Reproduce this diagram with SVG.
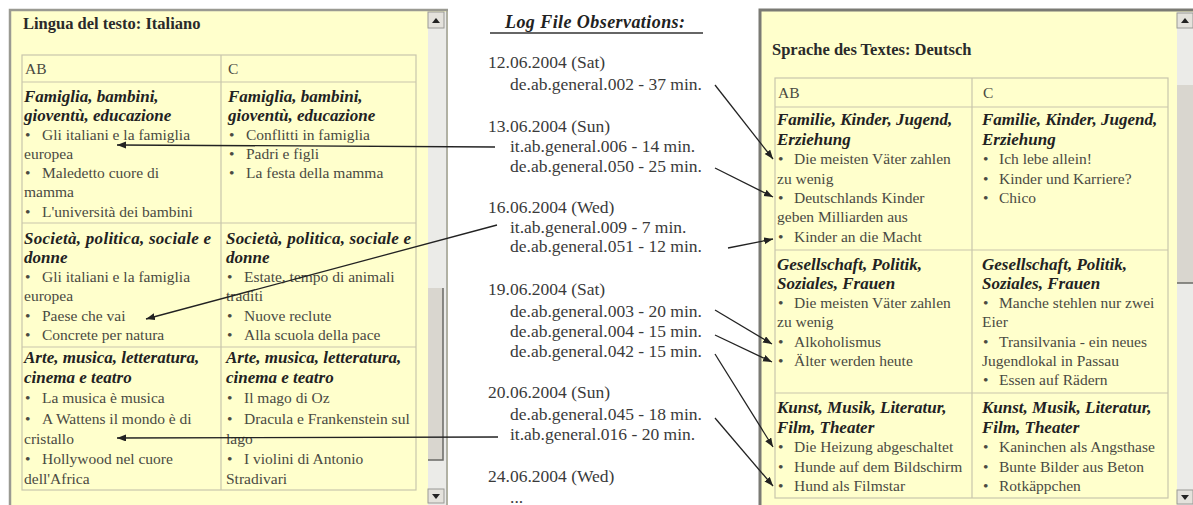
<svg xmlns="http://www.w3.org/2000/svg" width="1193" height="505" viewBox="0 0 1193 505">
<style>
.t{font-family:"Liberation Serif","Times New Roman",serif;font-size:15.5px;fill:#4a4a42}
.h{font-family:"Liberation Serif","Times New Roman",serif;font-size:17px;font-weight:bold;font-style:italic;fill:#222}
.ttl{font-family:"Liberation Serif","Times New Roman",serif;font-size:16.5px;font-weight:bold;fill:#2a2a2a}
.m{font-family:"Liberation Serif","Times New Roman",serif;font-size:17.5px;fill:#3a3a3a}
.mt{font-family:"Liberation Serif","Times New Roman",serif;font-size:18px;font-weight:bold;font-style:italic;fill:#222}
.panel{fill:#FFFFCC}
.grid{stroke:#c9c6ac;stroke-width:1.2;fill:none}
.track{fill:#ebebe8}
.btn{fill:#e4e2dc;stroke:#9a9a96;stroke-width:1}
.thumb{fill:#d9d6cf}
.edge{stroke:#6a6a66;stroke-width:1.5;fill:none}
.conn line{stroke:#222;stroke-width:1.3;marker-end:url(#arr)}
</style>
<defs>
<marker id="arr" markerUnits="userSpaceOnUse" markerWidth="10" markerHeight="8" refX="9" refY="3.5" orient="auto">
<path d="M0,0 L9,3.5 L0,7 z" fill="#222"/>
</marker>
</defs>
<rect width="1193" height="505" fill="#ffffff"/>

<g id="panel-it">
<rect x="10" y="10" width="438" height="500" class="panel"/>
<path d="M10,505 V10 H448" stroke="#9a9a92" stroke-width="2.5" fill="none"/>
<rect x="428" y="12" width="19" height="493" class="track"/>
<rect x="428" y="12" width="16" height="16" class="btn"/>
<path d="M432,23 L436,18 L440,23 z" fill="#222"/>
<rect x="428" y="288" width="15" height="172" class="thumb"/>
<path class="edge" d="M428,460 H443 V288"/>
<rect x="428" y="489" width="16" height="14" class="btn"/>
<path d="M432,494 L436,499 L440,494 z" fill="#222"/>
<line x1="447" y1="10" x2="447" y2="505" stroke="#9a9a92" stroke-width="1.5"/>
<text x="23" y="29" class="ttl">Lingua del testo: Italiano</text>
<rect x="22" y="55" width="394" height="435" class="grid"/>
<path class="grid" d="M22,82 H416 M22,223 H416 M22,347 H416 M221,55 V490"/>
<text x="25" y="74" class="t">AB</text>
<text x="228" y="74" class="t">C</text>
<text x="24" y="102" class="h">Famiglia, bambini,</text>
<text x="24" y="121" class="h">gioventù, educazione</text>
<text class="t" y="140"><tspan x="25">•</tspan><tspan x="42">Gli italiani e la famiglia</tspan></text>
<text x="24" y="159" class="t">europea</text>
<text class="t" y="178"><tspan x="25">•</tspan><tspan x="42">Maledetto cuore di</tspan></text>
<text x="24" y="197" class="t">mamma</text>
<text class="t" y="217"><tspan x="25">•</tspan><tspan x="42">L'università dei bambini</tspan></text>
<text x="228" y="102" class="h">Famiglia, bambini,</text>
<text x="228" y="121" class="h">gioventù, educazione</text>
<text class="t" y="140"><tspan x="229">•</tspan><tspan x="246">Conflitti in famiglia</tspan></text>
<text class="t" y="159"><tspan x="229">•</tspan><tspan x="246">Padri e figli</tspan></text>
<text class="t" y="178"><tspan x="229">•</tspan><tspan x="246">La festa della mamma</tspan></text>
<text x="24" y="244" class="h" textLength="187">Società, politica, sociale e</text>
<text x="24" y="263" class="h">donne</text>
<text class="t" y="282"><tspan x="25">•</tspan><tspan x="42">Gli italiani e la famiglia</tspan></text>
<text x="24" y="301" class="t">europea</text>
<text class="t" y="321"><tspan x="25">•</tspan><tspan x="42">Paese che vai</tspan></text>
<text class="t" y="340"><tspan x="25">•</tspan><tspan x="42">Concrete per natura</tspan></text>
<text x="226" y="244" class="h" textLength="185">Società, politica, sociale e</text>
<text x="226" y="263" class="h">donne</text>
<text class="t" y="282"><tspan x="227">•</tspan><tspan x="244">Estate, tempo di animali</tspan></text>
<text x="226" y="301" class="t">traditi</text>
<text class="t" y="321"><tspan x="227">•</tspan><tspan x="244">Nuove reclute</tspan></text>
<text class="t" y="340"><tspan x="227">•</tspan><tspan x="244">Alla scuola della pace</tspan></text>
<text x="24" y="363" class="h">Arte, musica, letteratura,</text>
<text x="24" y="383" class="h">cinema e teatro</text>
<text class="t" y="403"><tspan x="25">•</tspan><tspan x="42">La musica è musica</tspan></text>
<text class="t" y="424"><tspan x="25">•</tspan><tspan x="42">A Wattens il mondo è di</tspan></text>
<text x="24" y="444" class="t">cristallo</text>
<text class="t" y="464"><tspan x="25">•</tspan><tspan x="42">Hollywood nel cuore</tspan></text>
<text x="24" y="484" class="t">dell'Africa</text>
<text x="226" y="363" class="h">Arte, musica, letteratura,</text>
<text x="226" y="383" class="h">cinema e teatro</text>
<text class="t" y="403"><tspan x="227">•</tspan><tspan x="244">Il mago di Oz</tspan></text>
<text class="t" y="424"><tspan x="227">•</tspan><tspan x="244">Dracula e Frankenstein sul</tspan></text>
<text x="226" y="444" class="t">lago</text>
<text class="t" y="464"><tspan x="227">•</tspan><tspan x="244">I violini di Antonio</tspan></text>
<text x="226" y="484" class="t">Stradivari</text>
</g>

<g id="log">
<text x="505" y="28" class="mt" textLength="180">Log File Observations:</text>
<line x1="490" y1="33" x2="703" y2="33" stroke="#333" stroke-width="1.5"/>
<text x="488" y="68" class="m">12.06.2004 (Sat)</text>
<text x="510" y="90" class="m">de.ab.general.002 - 37 min.</text>
<text x="488" y="132" class="m">13.06.2004 (Sun)</text>
<text x="510" y="152" class="m">it.ab.general.006 - 14 min.</text>
<text x="510" y="172" class="m">de.ab.general.050 - 25 min.</text>
<text x="488" y="213" class="m">16.06.2004 (Wed)</text>
<text x="510" y="233" class="m">it.ab.general.009 - 7 min.</text>
<text x="510" y="252" class="m">de.ab.general.051 - 12 min.</text>
<text x="488" y="295" class="m">19.06.2004 (Sat)</text>
<text x="510" y="317" class="m">de.ab.general.003 - 20 min.</text>
<text x="510" y="337" class="m">de.ab.general.004 - 15 min.</text>
<text x="510" y="357" class="m">de.ab.general.042 - 15 min.</text>
<text x="488" y="398" class="m">20.06.2004 (Sun)</text>
<text x="510" y="420" class="m">de.ab.general.045 - 18 min.</text>
<text x="510" y="440" class="m">it.ab.general.016 - 20 min.</text>
<text x="488" y="482" class="m">24.06.2004 (Wed)</text>
<text x="510" y="503" class="m">...</text>
</g>

<g id="panel-de">
<rect x="760" y="10" width="433" height="500" class="panel"/>
<path d="M760,505 V10 H1193" stroke="#7a7a74" stroke-width="3" fill="none"/>
<rect x="1177" y="12" width="16" height="493" class="track"/>
<rect x="1177" y="13" width="16" height="15" class="btn"/>
<path d="M1181,23 L1185,18 L1189,23 z" fill="#222"/>
<rect x="1177" y="85" width="16" height="198" class="thumb"/>
<path class="edge" d="M1177,283 H1193"/>
<rect x="1177" y="490" width="16" height="14" class="btn"/>
<path d="M1181,495 L1185,500 L1189,495 z" fill="#222"/>
<text x="772" y="55" class="ttl">Sprache des Textes: Deutsch</text>
<rect x="775" y="78" width="393" height="420" class="grid"/>
<path class="grid" d="M775,107 H1168 M775,250 H1168 M775,393 H1168 M972,78 V498"/>
<text x="778" y="98" class="t">AB</text>
<text x="983" y="98" class="t">C</text>
<text x="777" y="125" class="h">Familie, Kinder, Jugend,</text>
<text x="777" y="145" class="h">Erziehung</text>
<text class="t" y="164"><tspan x="778">•</tspan><tspan x="794">Die meisten Väter zahlen</tspan></text>
<text x="777" y="184" class="t">zu wenig</text>
<text class="t" y="203"><tspan x="778">•</tspan><tspan x="794">Deutschlands Kinder</tspan></text>
<text x="777" y="222" class="t">geben Milliarden aus</text>
<text class="t" y="242"><tspan x="778">•</tspan><tspan x="794">Kinder an die Macht</tspan></text>
<text x="982" y="125" class="h">Familie, Kinder, Jugend,</text>
<text x="982" y="145" class="h">Erziehung</text>
<text class="t" y="164"><tspan x="983">•</tspan><tspan x="999">Ich lebe allein!</tspan></text>
<text class="t" y="184"><tspan x="983">•</tspan><tspan x="999">Kinder und Karriere?</tspan></text>
<text class="t" y="203"><tspan x="983">•</tspan><tspan x="999">Chico</tspan></text>
<text x="777" y="270" class="h">Gesellschaft, Politik,</text>
<text x="777" y="289" class="h">Soziales, Frauen</text>
<text class="t" y="308"><tspan x="778">•</tspan><tspan x="794">Die meisten Väter zahlen</tspan></text>
<text x="777" y="327" class="t">zu wenig</text>
<text class="t" y="347"><tspan x="778">•</tspan><tspan x="794">Alkoholismus</tspan></text>
<text class="t" y="366"><tspan x="778">•</tspan><tspan x="794">Älter werden heute</tspan></text>
<text x="982" y="270" class="h">Gesellschaft, Politik,</text>
<text x="982" y="289" class="h">Soziales, Frauen</text>
<text class="t" y="308"><tspan x="983">•</tspan><tspan x="999">Manche stehlen nur zwei</tspan></text>
<text x="982" y="327" class="t">Eier</text>
<text class="t" y="347"><tspan x="983">•</tspan><tspan x="999">Transilvania - ein neues</tspan></text>
<text x="982" y="366" class="t">Jugendlokal in Passau</text>
<text class="t" y="385"><tspan x="983">•</tspan><tspan x="999">Essen auf Rädern</tspan></text>
<text x="777" y="413" class="h">Kunst, Musik, Literatur,</text>
<text x="777" y="433" class="h">Film, Theater</text>
<text class="t" y="452"><tspan x="778">•</tspan><tspan x="794">Die Heizung abgeschaltet</tspan></text>
<text class="t" y="472"><tspan x="778">•</tspan><tspan x="794">Hunde auf dem Bildschirm</tspan></text>
<text class="t" y="491"><tspan x="778">•</tspan><tspan x="794">Hund als Filmstar</tspan></text>
<text x="982" y="413" class="h">Kunst, Musik, Literatur,</text>
<text x="982" y="433" class="h">Film, Theater</text>
<text class="t" y="452"><tspan x="983">•</tspan><tspan x="999">Kaninchen als Angsthase</tspan></text>
<text class="t" y="472"><tspan x="983">•</tspan><tspan x="999">Bunte Bilder aus Beton</tspan></text>
<text class="t" y="491"><tspan x="983">•</tspan><tspan x="999">Rotkäppchen</tspan></text>
</g>

<g id="connectors" class="conn">
<line x1="715" y1="85" x2="773" y2="159"/>
<line x1="495" y1="147" x2="117" y2="145"/>
<line x1="715" y1="168" x2="773" y2="197"/>
<line x1="497" y1="225" x2="146" y2="319"/>
<line x1="728" y1="248" x2="773" y2="239"/>
<line x1="715" y1="310" x2="772" y2="344"/>
<line x1="715" y1="335" x2="772" y2="362"/>
<line x1="715" y1="354" x2="773" y2="447"/>
<line x1="715" y1="418" x2="773" y2="486"/>
<line x1="498" y1="437" x2="117" y2="438"/>
</g>
</svg>
